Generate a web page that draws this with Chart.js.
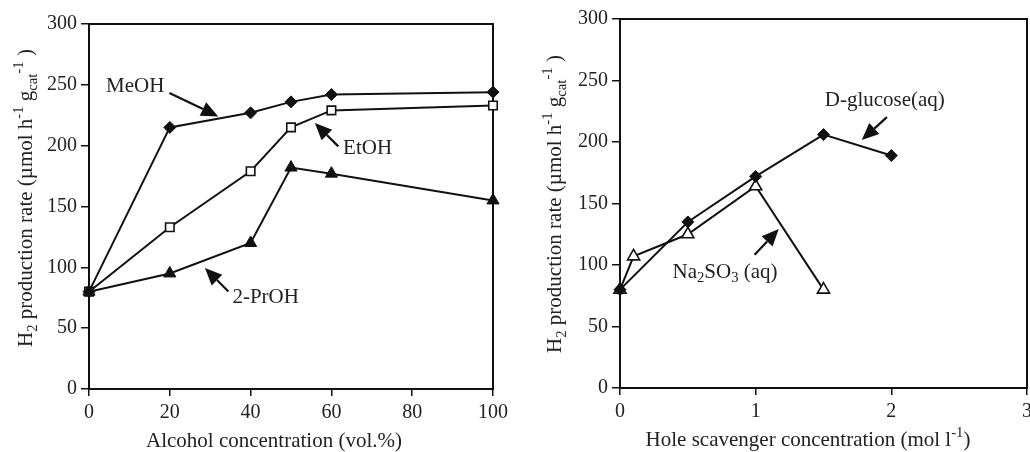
<!DOCTYPE html>
<html>
<head>
<meta charset="utf-8">
<script src="https://cdn.jsdelivr.net/npm/chart.js@4/dist/chart.umd.min.js"></script>
<style>
  body { margin: 0; background: #fff; }
  #wrap { position: relative; width: 1030px; height: 452px; overflow: hidden; }
  canvas { position: absolute; top: 0; }
</style>
</head>
<body>
<div id="wrap">
  <canvas id="left" width="520" height="452" style="left:0"></canvas>
  <canvas id="right" width="530" height="452" style="left:520px"></canvas>
</div>
<script>
// left panel: alcohol concentration (vol.%)
const alcoholConc = [0, 20, 40, 50, 60, 100];
const meohRate = [80, 215, 227, 236, 242, 244];
const etohRate = [80, 133, 179, 215, 229, 233];
const prohRate = [80, 95, 120, 182, 177, 155];

// right panel: hole scavenger concentration (mol l-1)
const glucoseConc = [0, 0.5, 1, 1.5, 2];
const glucoseRate = [80, 135, 172, 206, 189];
const sulfiteConc = [0, 0.1, 0.5, 1, 1.5];
const sulfiteRate = [80, 107, 125, 164, 80];

const yTicks = [0, 50, 100, 150, 200, 250, 300];

const FONT = "'Liberation Serif', 'Times New Roman', serif";
const INK = '#111';
const TXT = '#222';

function pts(xs, ys) {
  return xs.map((x, i) => ({ x: x, y: ys[i] }));
}

// text with sub/superscripts: runs = [text, kind] kind: 0 normal, 1 sup, -1 sub
function richWidth(ctx, runs, fs) {
  let w = 0;
  runs.forEach(r => {
    ctx.font = (r[1] ? fs * 0.7 : fs) + 'px ' + FONT;
    w += ctx.measureText(r[0]).width;
  });
  return w;
}
function drawRich(ctx, runs, x, y, fs, align) {
  let cx = align === 'center' ? x - richWidth(ctx, runs, fs) / 2 : x;
  ctx.textAlign = 'left';
  runs.forEach(r => {
    const sz = r[1] ? fs * 0.7 : fs;
    const dy = r[1] === 1 ? -fs * 0.42 : r[1] === -1 ? fs * 0.25 : 0;
    ctx.font = sz + 'px ' + FONT;
    ctx.fillText(r[0], cx, y + dy);
    cx += ctx.measureText(r[0]).width;
  });
}

function arrow(ctx, x0, y0, x1, y1) {
  const ang = Math.atan2(y1 - y0, x1 - x0);
  const L = 17, W = 7.5;
  const bx = x1 - Math.cos(ang) * L, by = y1 - Math.sin(ang) * L;
  ctx.beginPath();
  ctx.moveTo(x0, y0);
  ctx.lineTo(bx, by);
  ctx.lineWidth = 2.2;
  ctx.strokeStyle = INK;
  ctx.stroke();
  ctx.beginPath();
  ctx.moveTo(x1, y1);
  ctx.lineTo(bx - Math.sin(ang) * W, by + Math.cos(ang) * W);
  ctx.lineTo(bx + Math.sin(ang) * W, by - Math.cos(ang) * W);
  ctx.closePath();
  ctx.fillStyle = INK;
  ctx.fill();
}

const yTitle = [['H', 0], ['2', -1], [' production rate (\u00b5mol h', 0], ['-1', 1], [' g', 0], ['cat', -1], ['-1', 1], [' )', 0]];

// frame, axis titles and the hand-drawn labels/arrows
const decor = {
  id: 'decor',
  beforeDatasetsDraw(chart, args, opts) {
    const { ctx, chartArea: a } = chart;
    ctx.save();
    ctx.strokeStyle = INK;
    ctx.lineWidth = 2;
    ctx.strokeRect(a.left, a.top, a.right - a.left, a.bottom - a.top);
    ctx.restore();
  },
  afterDraw(chart, args, opts) {
    const { ctx, chartArea: a, scales } = chart;
    const sx = scales.x, sy = scales.y;
    ctx.save();
    ctx.fillStyle = TXT;
    ctx.textBaseline = 'alphabetic';
    // x title
    drawRich(ctx, opts.xTitle, (a.left + a.right) / 2 + opts.xTitleDx, opts.xTitleY, 21, 'center');
    // y title
    ctx.save();
    ctx.translate(opts.yTitleX, opts.yTitleCy);
    ctx.rotate(-Math.PI / 2);
    drawRich(ctx, yTitle, 0, 0, 21, 'center');
    ctx.restore();
    // labels
    ctx.textBaseline = 'middle';
    opts.labels.forEach(l => {
      drawRich(ctx, l.runs, sx.getPixelForValue(l.x), sy.getPixelForValue(l.y), 21, 'left');
    });
    opts.arrows.forEach(r => {
      arrow(ctx, sx.getPixelForValue(r[0]), sy.getPixelForValue(r[1]),
                 sx.getPixelForValue(r[2]), sy.getPixelForValue(r[3]));
    });
    ctx.restore();
  }
};

function series(label, xs, ys, style, radius, filled) {
  return {
    label: label,
    data: pts(xs, ys),
    borderColor: INK,
    borderWidth: 2,
    pointStyle: style,
    pointRadius: radius,
    pointBackgroundColor: filled ? INK : '#fff',
    pointBorderColor: INK,
    pointBorderWidth: filled ? 1 : 1.6,
    tension: 0,
    clip: false
  };
}

function axisCommon() {
  return {
    grid: { display: true, drawOnChartArea: false, drawTicks: true, tickLength: 8, color: INK, lineWidth: 1.5 },
    border: { display: true, color: INK, width: 2 },
    ticks: { color: TXT, font: { family: FONT, size: 20 }, padding: 4 }
  };
}

function makeChart(id, datasets, xMax, xStep, yWidth, xHeight, pad, decorOpts) {
  const xa = axisCommon();
  xa.type = 'linear';
  xa.min = 0; xa.max = xMax;
  xa.ticks.stepSize = xStep;
  xa.ticks.padding = 5;
  xa.grid.tickLength = 7;
  xa.afterFit = s => { s.height = xHeight; s.paddingLeft = 0; s.paddingRight = 0; };
  const ya = axisCommon();
  ya.min = 0; ya.max = 300;
  ya.afterBuildTicks = s => { s.ticks = yTicks.map(v => ({ value: v })); };
  ya.afterFit = s => { s.width = yWidth; s.paddingTop = 0; s.paddingBottom = 0; };
  return new Chart(document.getElementById(id), {
    type: 'line',
    data: { datasets: datasets },
    options: {
      responsive: false,
      animation: false,
      layout: { padding: pad },
      scales: { x: xa, y: ya },
      plugins: { legend: { display: false }, tooltip: { enabled: false }, decor: decorOpts }
    },
    plugins: [decor]
  });
}

makeChart('left', [
  series('MeOH', alcoholConc, meohRate, 'rectRot', 6, true),
  series('EtOH', alcoholConc, etohRate, 'rect', 6, false),
  series('2-PrOH', alcoholConc, prohRate, 'triangle', 7, true)
], 100, 20, 89, 63, { left: 0, top: 24, right: 27, bottom: 0 }, {
  xTitle: [['Alcohol concentration (vol.%)', 0]],
  xTitleDx: -17, xTitleY: 447,
  yTitleX: 32, yTitleCy: 198,
  labels: [
    { runs: [['MeOH', 0]], x: 4.2, y: 249 },
    { runs: [['EtOH', 0]], x: 62.9, y: 198 },
    { runs: [['2-PrOH', 0]], x: 35.5, y: 75.6 }
  ],
  arrows: [
    [19.9, 243.3, 32.0, 224.0],
    [61.7, 199.4, 55.9, 218.6],
    [34.5, 80.2, 28.7, 99.4]
  ]
});

// right canvas runs past the window edge so the last tick label is cut off as in the figure
makeChart('right', [
  series('D-glucose(aq)', glucoseConc, glucoseRate, 'rectRot', 6, true),
  series('Na2SO3(aq)', sulfiteConc, sulfiteRate, 'triangle', 7, false)
], 3, 1, 100, 64, { left: 0, top: 19, right: 23, bottom: 0 }, {
  xTitle: [['Hole scavenger concentration (mol l', 0], ['-1', 1], [')', 0]],
  xTitleDx: -15.5, xTitleY: 446,
  yTitleX: 41, yTitleCy: 204,
  labels: [
    { runs: [['D-glucose(aq)', 0]], x: 1.509, y: 234 },
    { runs: [['Na', 0], ['2', -1], ['SO', 0], ['3', -1], [' (aq)', 0]], x: 0.387, y: 93.6 }
  ],
  arrows: [
    [1.967, 220.2, 1.782, 201.6],
    [0.992, 108.3, 1.170, 129.3]
  ]
});
</script>
</body>
</html>
